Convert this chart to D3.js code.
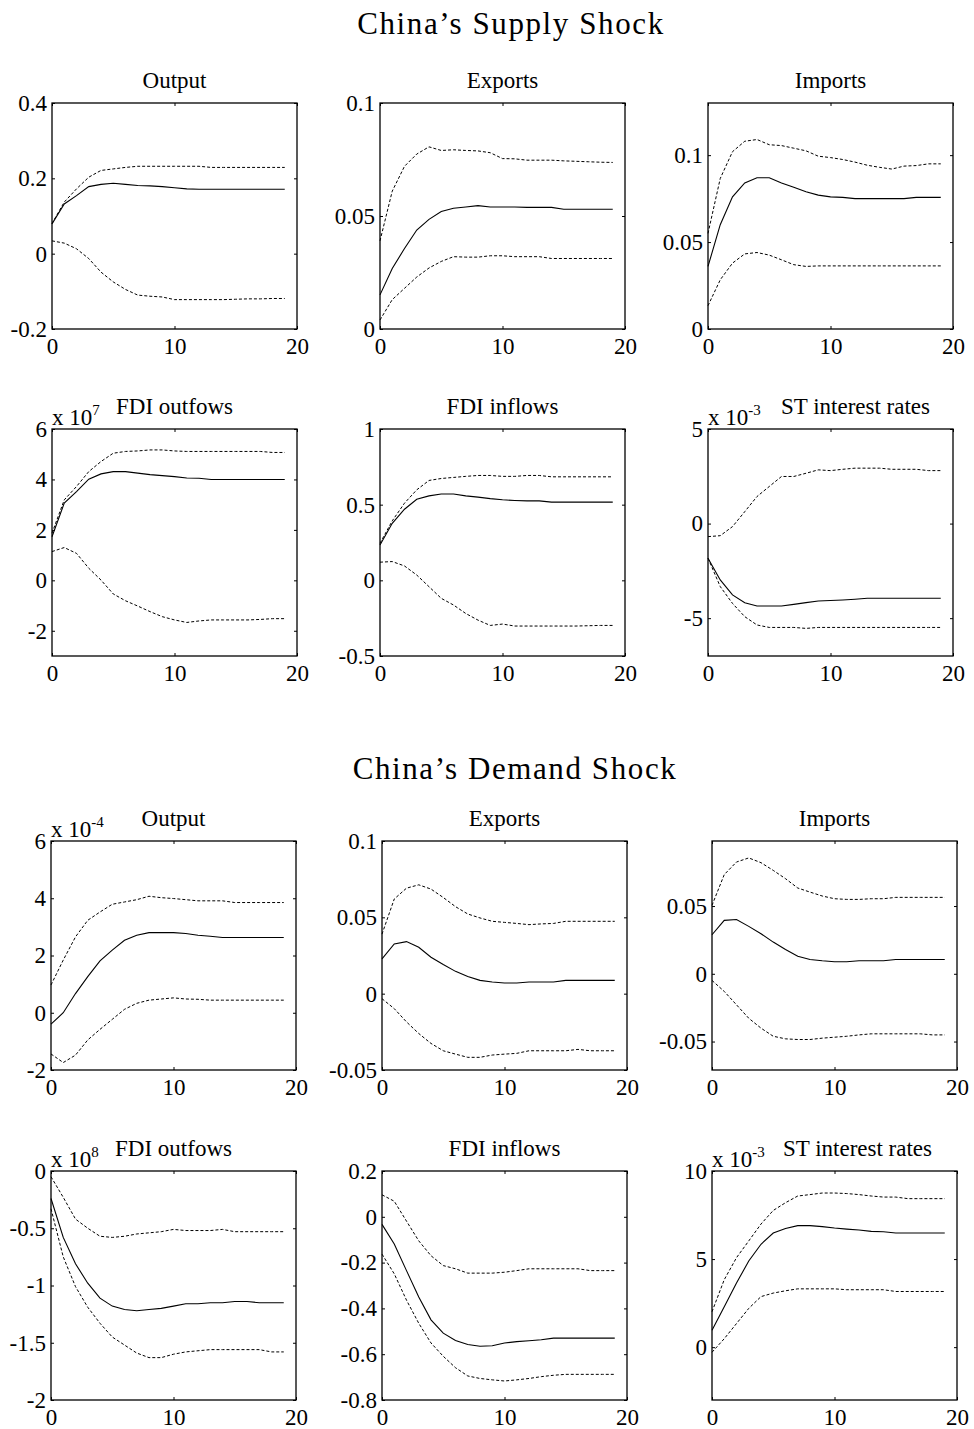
<!DOCTYPE html>
<html>
<head>
<meta charset="utf-8">
<script src="https://cdn.jsdelivr.net/npm/d3@7"></script>
<style>
  body { margin: 0; background: #fff; }
  svg text { font-family: "Liberation Serif", "Times New Roman", serif; fill: #000; }
</style>
</head>
<body>
<div id="chart"></div>
<script>
var steps = d3.range(0, 20);

// ---- China's supply shock ----
var supOutputMid = [0.079, 0.132, 0.154, 0.178, 0.184, 0.187, 0.184, 0.181, 0.180, 0.178, 0.175, 0.172, 0.171, 0.171, 0.171, 0.171, 0.171, 0.171, 0.171, 0.171];
var supOutputHi  = [0.080, 0.137, 0.172, 0.203, 0.221, 0.225, 0.229, 0.232, 0.232, 0.232, 0.232, 0.232, 0.232, 0.229, 0.229, 0.229, 0.229, 0.229, 0.229, 0.229];
var supOutputLo  = [0.034, 0.028, 0.013, -0.013, -0.049, -0.075, -0.095, -0.110, -0.113, -0.115, -0.122, -0.122, -0.122, -0.122, -0.122, -0.121, -0.120, -0.120, -0.119, -0.119];

var supExportsMid = [0.0151, 0.0268, 0.0356, 0.0438, 0.0485, 0.0520, 0.0534, 0.0540, 0.0546, 0.0540, 0.0540, 0.0540, 0.0538, 0.0538, 0.0538, 0.0530, 0.0530, 0.0530, 0.0530, 0.0530];
var supExportsHi  = [0.039, 0.061, 0.072, 0.0774, 0.0806, 0.0790, 0.0793, 0.0790, 0.0788, 0.0780, 0.0754, 0.0753, 0.0747, 0.0747, 0.0747, 0.0744, 0.0742, 0.0740, 0.0738, 0.0737];
var supExportsLo  = [0.004, 0.013, 0.018, 0.023, 0.027, 0.0299, 0.0320, 0.0318, 0.0318, 0.0324, 0.0324, 0.0320, 0.0320, 0.0320, 0.0312, 0.0312, 0.0312, 0.0312, 0.0312, 0.0312];

var supImportsMid = [0.036, 0.060, 0.076, 0.084, 0.087, 0.087, 0.084, 0.0815, 0.079, 0.077, 0.076, 0.0757, 0.075, 0.075, 0.075, 0.075, 0.075, 0.0757, 0.0757, 0.0757];
var supImportsHi  = [0.055, 0.0866, 0.102, 0.108, 0.109, 0.106, 0.1055, 0.104, 0.1025, 0.0994, 0.0986, 0.0975, 0.096, 0.0942, 0.093, 0.092, 0.0937, 0.094, 0.095, 0.095];
var supImportsLo  = [0.0134, 0.0283, 0.0379, 0.0432, 0.044, 0.0425, 0.0398, 0.037, 0.036, 0.0363, 0.0363, 0.0363, 0.0363, 0.0363, 0.0363, 0.0363, 0.0363, 0.0363, 0.0363, 0.0363];

var supFdiOutMid = [1.73, 3.06, 3.52, 4.01, 4.22, 4.31, 4.31, 4.25, 4.19, 4.15, 4.11, 4.06, 4.05, 4.00, 4.00, 4.00, 4.00, 4.00, 4.00, 4.00];
var supFdiOutHi  = [1.87, 3.19, 3.72, 4.31, 4.71, 5.04, 5.11, 5.13, 5.17, 5.17, 5.13, 5.11, 5.11, 5.11, 5.11, 5.11, 5.11, 5.11, 5.07, 5.07];
var supFdiOutLo  = [1.14, 1.30, 1.07, 0.48, 0.01, -0.54, -0.81, -1.02, -1.24, -1.44, -1.57, -1.67, -1.61, -1.57, -1.57, -1.57, -1.57, -1.55, -1.52, -1.52];

var supFdiInMid = [0.234, 0.377, 0.470, 0.536, 0.558, 0.570, 0.570, 0.558, 0.550, 0.540, 0.532, 0.528, 0.525, 0.525, 0.517, 0.517, 0.517, 0.517, 0.517, 0.517];
var supFdiInHi  = [0.245, 0.393, 0.510, 0.598, 0.660, 0.673, 0.680, 0.687, 0.693, 0.693, 0.687, 0.687, 0.693, 0.693, 0.684, 0.684, 0.684, 0.684, 0.684, 0.684];
var supFdiInLo  = [0.120, 0.124, 0.095, 0.035, -0.042, -0.119, -0.163, -0.219, -0.263, -0.298, -0.289, -0.302, -0.302, -0.302, -0.302, -0.302, -0.302, -0.300, -0.298, -0.298];

var supRateMid = [-1.83, -2.98, -3.77, -4.18, -4.36, -4.36, -4.36, -4.27, -4.18, -4.09, -4.07, -4.04, -4.00, -3.95, -3.95, -3.95, -3.95, -3.95, -3.95, -3.95];
var supRateHi  = [-0.69, -0.64, -0.16, 0.63, 1.43, 1.96, 2.49, 2.49, 2.66, 2.84, 2.80, 2.87, 2.93, 2.93, 2.93, 2.87, 2.87, 2.87, 2.80, 2.80];
var supRateLo  = [-1.83, -3.33, -4.22, -4.92, -5.36, -5.49, -5.49, -5.49, -5.54, -5.49, -5.49, -5.49, -5.49, -5.49, -5.49, -5.49, -5.49, -5.49, -5.49, -5.49];

// ---- China's demand shock ----
var demOutputMid = [-0.40, 0.00, 0.67, 1.26, 1.81, 2.19, 2.53, 2.71, 2.80, 2.80, 2.80, 2.77, 2.71, 2.67, 2.63, 2.63, 2.63, 2.63, 2.63, 2.63];
var demOutputHi  = [0.97, 1.84, 2.65, 3.23, 3.52, 3.79, 3.87, 3.95, 4.07, 4.02, 3.99, 3.95, 3.91, 3.91, 3.91, 3.85, 3.85, 3.85, 3.85, 3.85];
var demOutputLo  = [-1.44, -1.74, -1.48, -0.95, -0.58, -0.23, 0.12, 0.33, 0.44, 0.48, 0.52, 0.48, 0.47, 0.44, 0.44, 0.44, 0.44, 0.44, 0.44, 0.44];

var demExportsMid = [0.0228, 0.0326, 0.0341, 0.0304, 0.0239, 0.0191, 0.0146, 0.0113, 0.0087, 0.0076, 0.0070, 0.0070, 0.0076, 0.0076, 0.0076, 0.0087, 0.0087, 0.0087, 0.0087, 0.0087];
var demExportsHi  = [0.039, 0.062, 0.0691, 0.0713, 0.0685, 0.063, 0.057, 0.0522, 0.0496, 0.0474, 0.0467, 0.046, 0.0452, 0.0457, 0.046, 0.0474, 0.0474, 0.0474, 0.0474, 0.0474];
var demExportsLo  = [-0.0033, -0.0098, -0.0185, -0.0261, -0.0326, -0.0374, -0.0396, -0.0417, -0.0417, -0.0402, -0.0396, -0.0391, -0.0374, -0.0374, -0.0374, -0.0374, -0.0365, -0.0374, -0.0374, -0.0374];

var demImportsMid = [0.0288, 0.0394, 0.0401, 0.0350, 0.0296, 0.0234, 0.0180, 0.0130, 0.0106, 0.0096, 0.0089, 0.0089, 0.0096, 0.0096, 0.0096, 0.0106, 0.0106, 0.0106, 0.0106, 0.0106];
var demImportsHi  = [0.0505, 0.0732, 0.0825, 0.0855, 0.0820, 0.0763, 0.0702, 0.0633, 0.0603, 0.0574, 0.0554, 0.0549, 0.0549, 0.0554, 0.0554, 0.0564, 0.0564, 0.0564, 0.0564, 0.0564];
var demImportsLo  = [-0.0049, -0.0130, -0.0229, -0.0328, -0.0401, -0.0461, -0.0480, -0.0485, -0.0485, -0.0475, -0.0468, -0.0461, -0.0451, -0.0443, -0.0443, -0.0443, -0.0443, -0.0443, -0.0451, -0.0451];

var demFdiOutMid = [-0.24, -0.58, -0.81, -0.98, -1.11, -1.18, -1.21, -1.22, -1.21, -1.20, -1.18, -1.16, -1.16, -1.15, -1.15, -1.14, -1.14, -1.15, -1.15, -1.15];
var demFdiOutHi  = [-0.05, -0.23, -0.42, -0.50, -0.57, -0.58, -0.57, -0.55, -0.54, -0.53, -0.51, -0.52, -0.52, -0.52, -0.51, -0.53, -0.53, -0.53, -0.53, -0.53];
var demFdiOutLo  = [-0.33, -0.75, -1.01, -1.19, -1.33, -1.45, -1.52, -1.59, -1.63, -1.63, -1.60, -1.58, -1.57, -1.56, -1.56, -1.56, -1.56, -1.56, -1.58, -1.58];

var demFdiInMid = [-0.033, -0.119, -0.235, -0.350, -0.450, -0.508, -0.540, -0.558, -0.565, -0.563, -0.551, -0.545, -0.541, -0.537, -0.530, -0.530, -0.530, -0.530, -0.530, -0.530];
var demFdiInHi  = [0.096, 0.068, -0.019, -0.105, -0.170, -0.213, -0.227, -0.246, -0.246, -0.246, -0.242, -0.235, -0.227, -0.227, -0.227, -0.227, -0.227, -0.235, -0.235, -0.235];
var demFdiInLo  = [-0.163, -0.249, -0.364, -0.465, -0.551, -0.609, -0.659, -0.695, -0.706, -0.712, -0.717, -0.712, -0.706, -0.698, -0.692, -0.688, -0.688, -0.688, -0.688, -0.688];

var demRateMid = [0.96, 2.30, 3.64, 4.89, 5.84, 6.48, 6.74, 6.90, 6.90, 6.84, 6.76, 6.70, 6.65, 6.57, 6.55, 6.48, 6.48, 6.48, 6.48, 6.48];
var demRateHi  = [2.01, 3.83, 5.08, 6.03, 6.99, 7.76, 8.20, 8.58, 8.66, 8.75, 8.75, 8.72, 8.66, 8.58, 8.52, 8.52, 8.43, 8.43, 8.43, 8.43];
var demRateLo  = [-0.29, 0.48, 1.34, 2.20, 2.87, 3.07, 3.20, 3.31, 3.31, 3.31, 3.31, 3.26, 3.26, 3.26, 3.26, 3.16, 3.16, 3.16, 3.16, 3.16];

// axis limits and ticks
var xTicks = [0, 10, 20];
var supTitles = ["Output", "Exports", "Imports", "FDI outfows", "FDI inflows", "ST interest rates"];
var demTitles = ["Output", "Exports", "Imports", "FDI outfows", "FDI inflows", "ST interest rates"];
var sectionTitles = ["China\u2019s Supply Shock", "China\u2019s Demand Shock"];

var panels = [
  { title: supTitles[0], mid: supOutputMid, hi: supOutputHi, lo: supOutputLo, dom: [-0.2, 0.4], ticks: [-0.2, 0, 0.2, 0.4] },
  { title: supTitles[1], mid: supExportsMid, hi: supExportsHi, lo: supExportsLo, dom: [0, 0.1], ticks: [0, 0.05, 0.1] },
  { title: supTitles[2], mid: supImportsMid, hi: supImportsHi, lo: supImportsLo, dom: [0, 0.13], ticks: [0, 0.05, 0.1] },
  { title: supTitles[3], mid: supFdiOutMid, hi: supFdiOutHi, lo: supFdiOutLo, dom: [-3, 6], ticks: [-2, 0, 2, 4, 6], exp: "7" },
  { title: supTitles[4], mid: supFdiInMid, hi: supFdiInHi, lo: supFdiInLo, dom: [-0.5, 1], ticks: [-0.5, 0, 0.5, 1] },
  { title: supTitles[5], mid: supRateMid, hi: supRateHi, lo: supRateLo, dom: [-7, 5], ticks: [-5, 0, 5], exp: "-3" },
  { title: demTitles[0], mid: demOutputMid, hi: demOutputHi, lo: demOutputLo, dom: [-2, 6], ticks: [-2, 0, 2, 4, 6], exp: "-4" },
  { title: demTitles[1], mid: demExportsMid, hi: demExportsHi, lo: demExportsLo, dom: [-0.05, 0.1], ticks: [-0.05, 0, 0.05, 0.1] },
  { title: demTitles[2], mid: demImportsMid, hi: demImportsHi, lo: demImportsLo, dom: [-0.071, 0.098], ticks: [-0.05, 0, 0.05] },
  { title: demTitles[3], mid: demFdiOutMid, hi: demFdiOutHi, lo: demFdiOutLo, dom: [-2, 0], ticks: [-2, -1.5, -1, -0.5, 0], exp: "8" },
  { title: demTitles[4], mid: demFdiInMid, hi: demFdiInHi, lo: demFdiInLo, dom: [-0.8, 0.2], ticks: [-0.8, -0.6, -0.4, -0.2, 0, 0.2] },
  { title: demTitles[5], mid: demRateMid, hi: demRateHi, lo: demRateLo, dom: [-3, 10], ticks: [0, 5, 10], exp: "-3" }
];

// layout
var W = 974, H = 1429;
var rowTop = [103, 429, 841, 1171];
var rowBottom = [329, 656, 1070, 1400];
var colLeft = [[52, 380, 708], [52, 380, 708], [51, 382, 712], [51, 382, 712]];
var panelW = 245;
var titleShift = [0, 0, 0, 0, 0, 25, 0, 0, 0, 0, 0, 23];
var fontSize = 23;

var fmt = d3.formatLocale({ decimal: ".", thousands: ",", grouping: [3], currency: ["", ""], minus: "-" }).format("~g");

var svg = d3.select('#chart').append('svg')
  .attr('width', W)
  .attr('height', H);

svg.selectAll('text.section').data(sectionTitles)
  .enter().append('text')
  .attr('class', 'section')
  .attr('x', function(d, i) { return i === 0 ? 511 : 515; })
  .attr('y', function(d, i) { return i === 0 ? 34 : 779; })
  .attr('text-anchor', 'middle')
  .style('font-size', '31px')
  .style('letter-spacing', '1.6px')
  .text(function(d) { return d; });

panels.forEach(function(p, i) {
  var row = Math.floor(i / 3), col = i % 3;
  var left = colLeft[row][col];
  var top = rowTop[row], bottom = rowBottom[row];
  var w = panelW, h = bottom - top;

  var x = d3.scaleLinear().domain([0, 20]).range([0, w]);
  var y = d3.scaleLinear().domain(p.dom).range([h, 0]);

  var g = svg.append('g').attr('transform', 'translate(' + left + ',' + top + ')');

  function styleAxis(a) {
    a.select('.domain').remove();
    a.selectAll('line').attr('stroke', '#000');
    a.selectAll('text').style('font-size', fontSize + 'px')
      .style('font-family', '"Liberation Serif", "Times New Roman", serif');
  }

  g.append('g').call(d3.axisLeft(y).tickValues(p.ticks).tickFormat(fmt).tickSize(-3).tickPadding(5)).call(styleAxis);
  g.append('g').attr('transform', 'translate(' + w + ',0)')
    .call(d3.axisRight(y).tickValues(p.ticks).tickFormat('').tickSize(-3)).call(styleAxis);
  g.append('g').attr('transform', 'translate(0,' + h + ')')
    .call(d3.axisBottom(x).tickValues(xTicks).tickFormat(fmt).tickSize(-3).tickPadding(9)).call(styleAxis);
  g.append('g')
    .call(d3.axisTop(x).tickValues(xTicks).tickFormat('').tickSize(-3)).call(styleAxis);

  var line = d3.line()
    .x(function(d, k) { return x(steps[k]); })
    .y(function(d) { return y(d); });

  g.selectAll('path.band').data([p.hi, p.lo])
    .enter().append('path')
    .attr('class', 'band')
    .attr('d', line)
    .attr('fill', 'none')
    .attr('stroke', '#000')
    .attr('stroke-width', 1)
    .attr('stroke-dasharray', '3,2');

  g.append('path')
    .attr('d', line(p.mid))
    .attr('fill', 'none')
    .attr('stroke', '#000')
    .attr('stroke-width', 1.1);

  g.append('rect')
    .attr('width', w).attr('height', h)
    .attr('fill', 'none')
    .attr('stroke', '#000')
    .attr('stroke-width', 1.3);

  g.append('text')
    .attr('x', w / 2 + titleShift[i])
    .attr('y', -15)
    .attr('text-anchor', 'middle')
    .style('font-size', fontSize + 'px')
    .text(p.title);

  if (p.exp) {
    var t = g.append('text')
      .attr('x', 0)
      .attr('y', -4)
      .style('font-size', fontSize + 'px')
      .text('x 10');
    t.append('tspan')
      .attr('dy', -10)
      .style('font-size', '15px')
      .text(p.exp);
  }
});
</script>
</body>
</html>
